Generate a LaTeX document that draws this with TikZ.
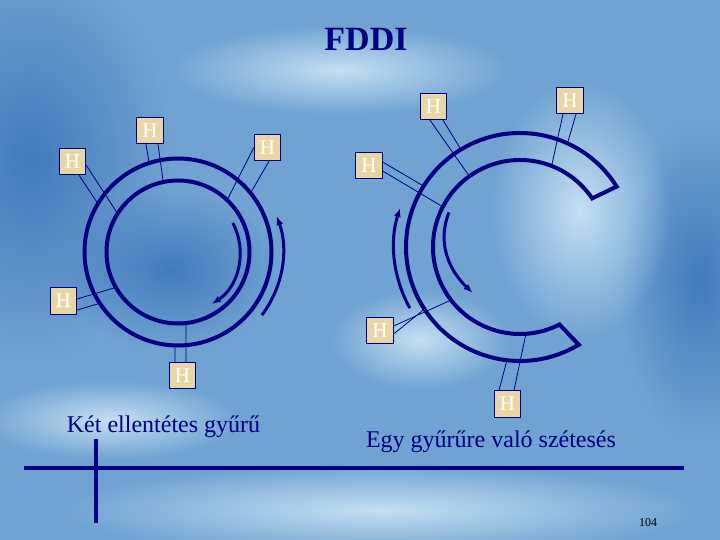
\documentclass[tikz,border=0pt]{standalone}
\usepackage{fontspec}
\setmainfont{Liberation Serif}
\usetikzlibrary{arrows.meta,fadings}
\definecolor{ringblue}{RGB}{0,0,128}
\definecolor{bgblue}{RGB}{112,163,210}
\definecolor{bglight}{RGB}{196,224,242}
\definecolor{bgdark}{RGB}{66,122,188}
\definecolor{hostfill}{RGB}{232,214,166}
\tikzfading[name=blobfade, inner color=transparent!0, outer color=transparent!100]

\begin{document}
\begin{tikzpicture}[x=1pt,y=1pt,
  host/.style={draw=ringblue,fill=hostfill,line width=0.8pt,minimum size=26.5pt,
    inner sep=0pt,text=white,font=\fontsize{21}{21}\selectfont},
  ring/.style={draw=ringblue,line width=4pt},
  link/.style={draw=ringblue,line width=0.8pt},
  flow/.style={draw=ringblue,line width=3pt,-{Latex[length=9pt,width=7pt]}},
  caption/.style={text=ringblue,font=\fontsize{24}{24}\selectfont,anchor=base}]
\useasboundingbox (0,0) rectangle (720,540);
\clip (0,0) rectangle (720,540);
% background
\fill[bgblue] (0,0) rectangle (720,540);
\fill[bgdark,path fading=blobfade] (30,380) ellipse (140 and 200);
\fill[bgdark,path fading=blobfade] (170,270) ellipse (110 and 80);
\fill[bgdark,path fading=blobfade] (700,260) ellipse (80 and 160);
\fill[bglight,path fading=blobfade] (340,470) ellipse (170 and 45);
\fill[bglight,path fading=blobfade] (580,330) ellipse (90 and 130);
\fill[bglight,path fading=blobfade] (380,30) ellipse (320 and 45);
\fill[bglight,path fading=blobfade] (110,120) ellipse (130 and 40);
\fill[bglight,path fading=blobfade] (420,200) ellipse (90 and 50);

% left: two rings
\coordinate (c1) at (178,288);
\draw[ring] (c1) circle (93.5);
\draw[ring] (c1) circle (71.5);
\draw[flow] ([shift={(28:62)}]c1) arc (28:-57:62);
\draw[flow] ([shift={(-37:105)}]c1) arc (-37:20:105);

% right: wrapped ring
\coordinate (c2) at (520,293);
\draw[ring,line join=miter] ([shift={(32:114)}]c2) arc (32:301:114)
  -- ([shift={(297:87)}]c2) arc (297:34:87) -- cycle;
\draw[flow] ([shift={(209:126)}]c2) arc (209:162:126);
\draw[flow] ([shift={(154:79)}]c2) to[out=248,in=136] ([shift={(224:66)}]c2);

% hosts
\node[host] (hA) at (72.5,378.5) {H};
\node[host] (hB) at (150,409.5) {H};
\node[host] (hC) at (267.5,392.5) {H};
\node[host] (hD) at (63.5,239) {H};
\node[host] (hE) at (182.5,164.5) {H};
\node[host] (hF) at (433.5,433.5) {H};
\node[host] (hG) at (570,439.5) {H};
\node[host] (hH) at (369,374.5) {H};
\node[host] (hI) at (380,209.5) {H};
\node[host] (hJ) at (507.5,136) {H};

\draw[link] ([xshift=6.5pt]hA.south) -- ([shift={(148.9:93.5)}]c1);
\draw[link] ([yshift=-3.5pt]hA.east) -- ([shift={(147.6:71.5)}]c1);
\draw[link] ([xshift=-4pt]hB.south) -- ([shift={(108:93.5)}]c1);
\draw[link] ([xshift=8pt]hB.south) -- ([shift={(101.9:71.5)}]c1);
\draw[link] (hC.west) -- ([shift={(46.6:71.5)}]c1);
\draw[link] ([xshift=1.5pt]hC.south) -- ([shift={(39.1:93.5)}]c1);
\draw[link] ([yshift=2pt]hD.east) -- ([shift={(209.7:71.5)}]c1);
\draw[link] ([yshift=-9pt]hD.east) -- ([shift={(213.3:93.5)}]c1);
\draw[link] ([xshift=-7.5pt]hE.north) -- ([shift={(268.2:93.5)}]c1);
\draw[link] ([xshift=3.5pt]hE.north) -- ([shift={(276.4:71.5)}]c1);

\draw[link] ([xshift=-3.5pt]hF.south) -- ([shift={(125.6:87)}]c2);
\draw[link] ([xshift=9.5pt]hF.south) -- ([shift={(121.2:114)}]c2);
\draw[link] ([xshift=-7pt]hG.south) -- ([shift={(68.7:87)}]c2);
\draw[link] ([xshift=6pt]hG.south) -- ([shift={(65.4:114)}]c2);
\draw[link] ([yshift=3.5pt]hH.east) -- ([shift={(147.7:114)}]c2);
\draw[link] ([yshift=-5.5pt]hH.east) -- ([shift={(152.5:87)}]c2);
\draw[link] ([yshift=4.5pt]hI.east) -- ([shift={(217.6:87)}]c2);
\draw[link] ([yshift=-3.5pt]hI.east) -- ([shift={(213:114)}]c2);
\draw[link] ([xshift=-8.5pt]hJ.north) -- ([shift={(263.4:114)}]c2);
\draw[link] ([xshift=6.5pt]hJ.north) -- ([shift={(273.9:87)}]c2);

% texts
\node[text=ringblue,font=\fontsize{34}{34}\selectfont\bfseries] (title) at (366,501) {FDDI};
\node[caption] (capA) at (163.5,107) {Két ellentétes gyűrű};
\node[caption] (capB) at (491,92) {Egy gyűrűre való szétesés};
\node[font=\fontsize{12}{12}\selectfont,anchor=base] (page) at (648,13) {104};

% rule
\draw[ringblue,line width=4pt] (24,72) -- (684,72);
\draw[ringblue,line width=4pt] (96,101) -- (96,17);
\end{tikzpicture}
\end{document}
